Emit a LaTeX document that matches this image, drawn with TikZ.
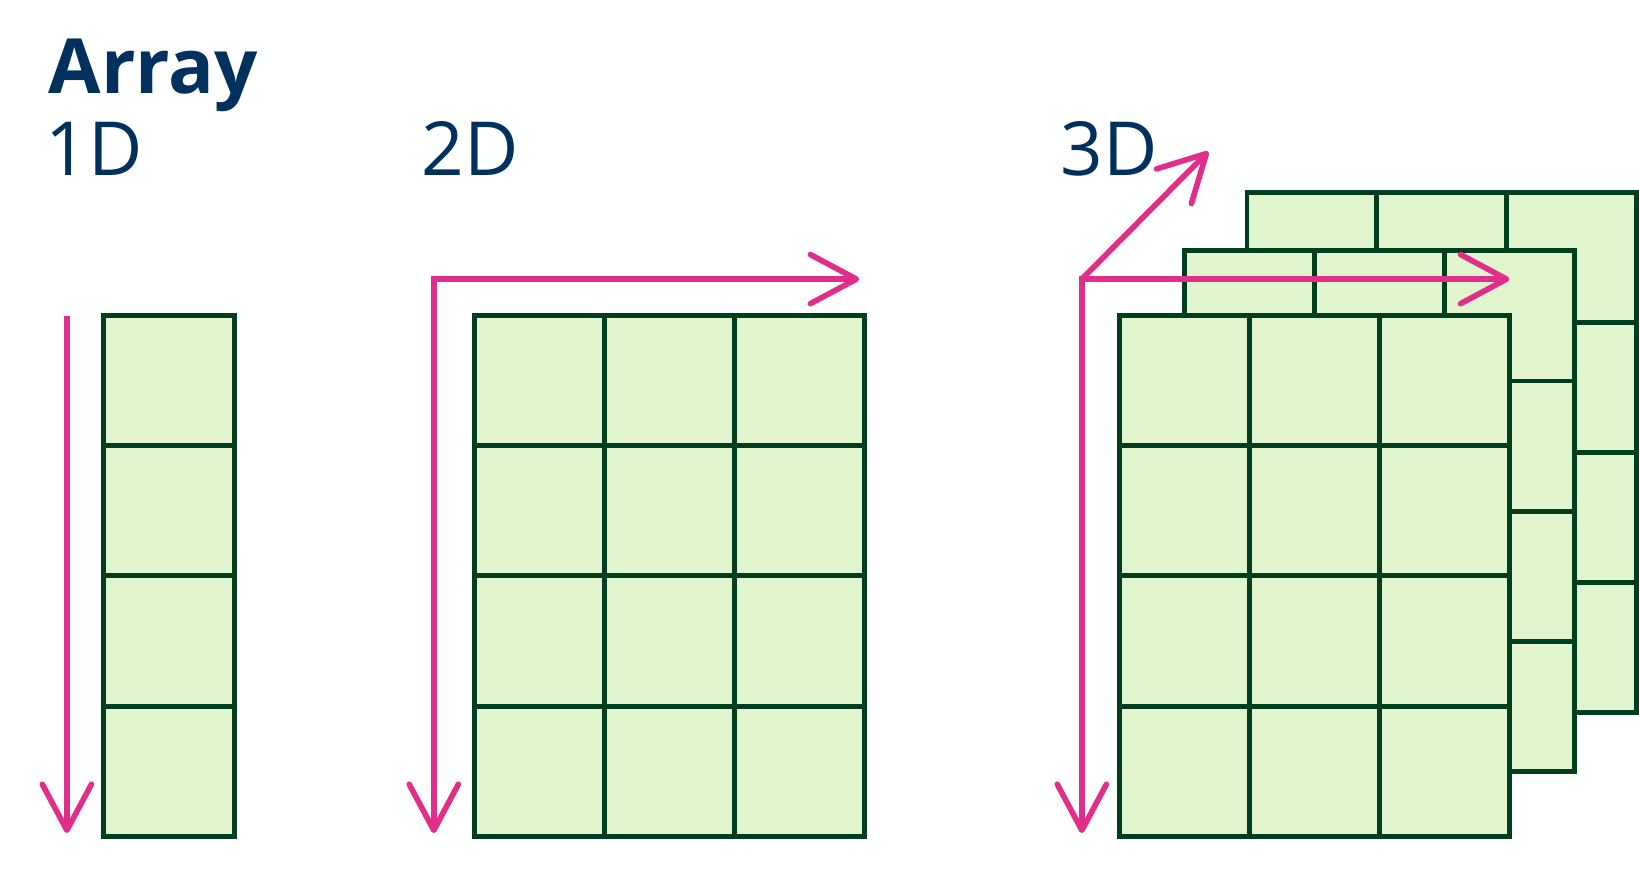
\documentclass[tikz,border=0pt]{standalone}
\usepackage{fontspec}
\setmainfont{Open Sans}
\usetikzlibrary{arrows.meta}

\definecolor{arrayNavy}{RGB}{0,48,94}
\definecolor{cellFill}{RGB}{224,244,206}
\definecolor{cellEdge}{RGB}{0,62,31}
\definecolor{axisPink}{RGB}{224,46,138}

\tikzset{axisTip/.tip={Straight Barb[length=0.44cm, width=0.47cm, round]}}

\begin{document}
\begin{tikzpicture}[
							x=0.01cm, y=-0.01cm,
							cellBox/.style={draw=cellEdge, fill=cellFill, line width=0.047cm},
							cellLine/.style={draw=cellEdge, line width=0.047cm},
							axisArrow/.style={draw=axisPink, line width=0.054cm, -axisTip},
							axisBoth/.style={draw=axisPink, line width=0.054cm, axisTip-axisTip},
							titleText/.style={text=arrayNavy, anchor=base west, inner sep=0pt, font=\bfseries\fontsize{20.7}{24}\selectfont},
							dimText/.style={text=arrayNavy, anchor=base west, inner sep=0pt, font=\fontsize{20.3}{24}\selectfont}
						]
						\useasboundingbox (0,0) rectangle (1568,842);
						
						\node[titleText] (title) at (46,89) {Array};
						\node[dimText] (label1D) at (43,168) {1D};
						\node[dimText] (label2D) at (403,168) {2D};
						\node[dimText] (label3D) at (1014,168) {3D};
						
						% 1D
						\begin{scope}[shift={(99,302)}]
							\filldraw[cellBox] (0,0) rectangle (125,498);
							\foreach \r in {1,2,3} \draw[cellLine] (0,\r*124.5) -- (125,\r*124.5);
						\end{scope}
						
						% 2D
						\begin{scope}[shift={(454,302)}]
							\filldraw[cellBox] (0,0) rectangle (373,498);
							\foreach \c in {1,2} \draw[cellLine] (\c*124.3,0) -- (\c*124.3,498);
							\foreach \r in {1,2,3} \draw[cellLine] (0,\r*124.5) -- (373,\r*124.5);
						\end{scope}
						
						% 3D, back layer first
						\foreach \lx/\ly in {1193/184, 1133/240, 1071/302}{
							\begin{scope}[shift={(\lx,\ly)}]
								\filldraw[cellBox] (0,0) rectangle (373,498);
								\foreach \c in {1,2} \draw[cellLine] (\c*124.3,0) -- (\c*124.3,498);
								\foreach \r in {1,2,3} \draw[cellLine] (0,\r*124.5) -- (373,\r*124.5);
							\end{scope}
						}
						
						\coordinate (top1D) at (64,302);
						\coordinate (down1D) at (64,797);
						\coordinate (origin2D) at (415,267);
						\coordinate (down2D) at (415,797);
						\coordinate (right2D) at (822,267);
						\coordinate (origin3D) at (1035,267);
						\coordinate (down3D) at (1035,797);
						\coordinate (right3D) at (1444,267);
						\coordinate (depth3D) at (1156,145);
						
						\draw[axisArrow] (top1D) -- (down1D);
						\draw[axisBoth] (down2D) -- (origin2D) -- (right2D);
						\draw[axisBoth] (down3D) -- (origin3D) -- (right3D);
						\draw[axisArrow] (origin3D) -- (depth3D);
					\end{tikzpicture}
\end{document}
